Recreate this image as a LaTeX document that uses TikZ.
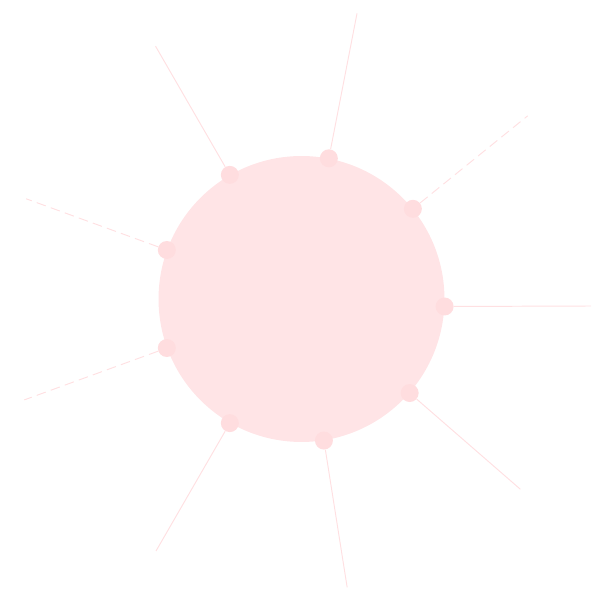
\documentclass[tikz,border=0pt]{standalone}
\usetikzlibrary{positioning}
\definecolor{skPink}{RGB}{255,228,230}
\definecolor{skKnob}{RGB}{255,221,223}
\definecolor{skRay}{RGB}{255,224,226}

\begin{document}
\begin{tikzpicture}[
  x=0.02cm, y=0.02cm,
  sun/.style={circle, fill=skPink, inner sep=0pt, minimum size=5.72cm},
  knob/.style={circle, fill=skKnob, inner sep=0pt, minimum size=0.36cm},
  ray/.style={draw=skRay, line width=0.55pt},
  rayd/.style={ray, dash pattern=on 5.5pt off 3pt}
]
  \useasboundingbox (-301.5,-302) rectangle (299.5,299);
  \node[sun] (sun) at (0,0) {};
  \node[knob] (k1) at (sun.79) {};
  \node[knob] (k2) at (sun.39) {};
  \node[knob] (k3) at (sun.-3) {};
  \node[knob] (k4) at (sun.-41) {};
  \node[knob] (k5) at (sun.-81) {};
  \node[knob] (k6) at (sun.-120) {};
  \node[knob] (k7) at (sun.-160) {};
  \node[knob] (k8) at (sun.160) {};
  \node[knob] (k9) at (sun.120) {};
  \coordinate (t1) at (79:291);
  \coordinate (t2) at (39:291);
  \coordinate (t3) at (289.5,-7);
  \coordinate (t4) at (-41:290);
  \coordinate (t5) at (-81:292);
  \coordinate (t6) at (-120:291);
  \coordinate (t7) at (-160:295);
  \coordinate (t8) at (160:293);
  \coordinate (t9) at (120:292);
  \draw[ray] (k1) -- (t1);
  \draw[rayd] (k2) -- (t2);
  \draw[ray] (k3) -- (t3);
  \draw[ray] (k4) -- (t4);
  \draw[ray] (k5) -- (t5);
  \draw[ray] (k6) -- (t6);
  \draw[rayd] (k7) -- (t7);
  \draw[rayd] (k8) -- (t8);
  \draw[ray] (k9) -- (t9);
\end{tikzpicture}
\end{document}
